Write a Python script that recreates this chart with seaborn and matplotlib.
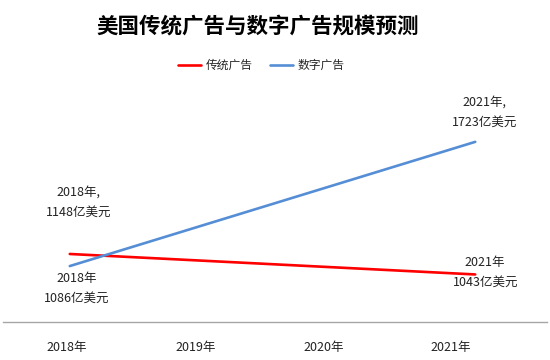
import numpy as np
import pandas as pd
import matplotlib
matplotlib.use("Agg")
import matplotlib.pyplot as plt
import seaborn as sns

sns.set_theme(style="white")
plt.rcParams['font.family'] = ['Noto Sans CJK SC', 'DejaVu Sans']

years = ['2018年', '2019年', '2020年', '2021年']
traditional_x = [0, 3]
traditional = [1148, 1043]
digital_x = [0, 3]
digital = [1086, 1723]

df = pd.DataFrame({
    'x': traditional_x + digital_x,
    'value': traditional + digital,
    'kind': ['传统广告'] * 2 + ['数字广告'] * 2,
})

fig = plt.figure(figsize=(5.5, 3.6), dpi=100)
ax = fig.add_axes([0.005, 0.106, 0.99, 0.65])

sns.lineplot(data=df, x='x', y='value', hue='kind',
             palette={'传统广告': '#ff0000', '数字广告': '#558ed5'},
             linewidth=1.9, ax=ax, legend=False)

ax.set_xlim(-0.496, 3.533)
ax.set_ylim(800, 2000)
ax.set_yticks([])
ax.set_xticks([-0.02, 0.93, 1.88, 2.82])
ax.set_xticklabels(years, fontsize=9, color='#222222')
ax.tick_params(axis='x', length=0, pad=14)
ax.set_xlabel('')
ax.set_ylabel('')
for s in ['top', 'right', 'left']:
    ax.spines[s].set_visible(False)
ax.spines['bottom'].set_color('#a6a6a6')
ax.spines['bottom'].set_linewidth(1.0)

# labels next to the end points
notes = [
    (traditional_x[0], traditional[0], '2018年,\n1148亿美元', (9, 52)),
    (digital_x[0], digital[0], '2018年\n1086亿美元', (7, -22)),
    (digital_x[1], digital[1], '2021年,\n1723亿美元', (9, 30)),
    (traditional_x[1], traditional[1], '2021年\n1043亿美元', (10, 2)),
]
for x, y, txt, off in notes:
    ax.annotate(txt, xy=(x, y), xytext=off, textcoords='offset pixels',
                ha='center', va='center', fontsize=9, color='#222222',
                linespacing=1.7)

handles = [plt.Line2D([], [], color='#ff0000', lw=1.9),
           plt.Line2D([], [], color='#558ed5', lw=1.9)]
fig.legend(handles, ['传统广告', '数字广告'], loc='center', bbox_to_anchor=(0.475, 0.818),
           ncol=2, frameon=False, fontsize=8.5, handlelength=2.0,
           columnspacing=1.4, handletextpad=0.4)

fig.text(0.468, 0.927, '美国传统广告与数字广告规模预测', ha='center', va='center',
         fontsize=15.5, fontweight='bold', color='#000000')

fig.savefig('out.png', dpi=100)
